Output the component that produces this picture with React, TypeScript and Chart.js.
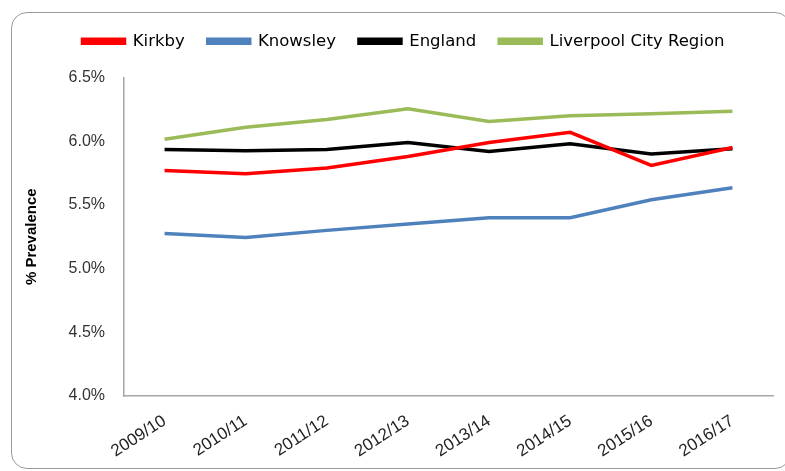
import React, { useEffect, useRef } from "react";
import { Chart, registerables } from "chart.js";

Chart.register(...registerables);

const categories = ["2009/10", "2010/11", "2011/12", "2012/13", "2013/14", "2014/15", "2015/16", "2016/17"];
const kirkby = [5.77, 5.745, 5.79, 5.88, 5.99, 6.07, 5.81, 5.95];
const knowsley = [5.275, 5.245, 5.3, 5.35, 5.4, 5.4, 5.54, 5.635];
const england = [5.935, 5.925, 5.935, 5.99, 5.92, 5.98, 5.9, 5.94];
const liverpoolCityRegion = [6.015, 6.11, 6.17, 6.255, 6.155, 6.2, 6.215, 6.235];
const seriesNames = ["Kirkby", "Knowsley", "England", "Liverpool City Region"];
const seriesColors = ["#FF0000", "#4F81BD", "#000000", "#9BBB59"];
const yMin = 4.0;
const yMax = 6.5;
const yStep = 0.5;

export default function App() {
  const ref = useRef<HTMLCanvasElement | null>(null);
  useEffect(() => {
    if (!ref.current) return;
    const values = [kirkby, knowsley, england, liverpoolCityRegion];
    const chart = new Chart(ref.current, {
      type: "line",
      data: {
        labels: categories,
        datasets: values.map((v, i) => ({
          label: seriesNames[i],
          data: v,
          borderColor: seriesColors[i],
          backgroundColor: seriesColors[i],
          borderWidth: 3.5,
          pointRadius: 0,
          tension: 0,
        })),
      },
      options: {
        animation: false,
        responsive: false,
        maintainAspectRatio: false,
        layout: { padding: { left: 34, right: 12, top: 10, bottom: 4 } },
        plugins: {
          tooltip: { enabled: false },
          title: {
            display: true,
            text: "",
            weight: 500,
            padding: 0,
            font: { size: 15 },
          },
          legend: {
            display: true,
            position: "top",
            labels: {
              boxWidth: 42,
              boxHeight: 4,
              padding: 23,
              color: "#000",
              font: { family: "'DejaVu Sans', sans-serif", size: 16.5 },
            },
          },
        },
        scales: {
          x: {
            type: "category",
            offset: true,
            grid: { display: true, color: "rgba(0,0,0,0)", drawTicks: false, offset: true },
            border: { display: true, color: "#A6A6A6", width: 1.5 },
            ticks: {
              color: "#222",
              padding: 15,
              minRotation: 33,
              maxRotation: 33,
              font: { family: "'Liberation Sans', Arial, sans-serif", size: 17 },
            },
            afterFit: (s: any) => {
              s.height = 471 - 396 - 4;
            },
          },
          y: {
            min: yMin,
            max: yMax,
            grid: { display: true, color: "rgba(0,0,0,0)", drawTicks: false },
            border: { display: true, color: "#A6A6A6", width: 1.5 },
            ticks: {
              stepSize: yStep,
              color: "#333",
              padding: 19,
              font: { family: "'Liberation Sans', Arial, sans-serif", size: 16 },
              callback: (v: any) => Number(v).toFixed(1) + "%",
            },
            title: {
              display: true,
              text: "% Prevalence",
              color: "#000",
              padding: { top: -11, bottom: 4 },
              font: { family: "'Liberation Sans', Arial, sans-serif", size: 15, weight: "bold" },
            },
            afterFit: (s: any) => {
              s.width = 90;
            },
          },
        },
      },
    });
    return () => chart.destroy();
  }, []);
  return (
    <div style={{ position: "fixed", left: 0, top: 0, width: 785, height: 471, overflow: "hidden", background: "#fff" }}>
      <div
        style={{
          position: "absolute",
          left: 11,
          top: 12,
          width: 780,
          height: 457,
          border: "1.5px solid #9A9A9A",
          borderRadius: 16,
          boxSizing: "border-box",
        }}
      />
      <canvas ref={ref} width={785} height={471} style={{ position: "absolute", left: 0, top: 0 }} />
    </div>
  );
}
